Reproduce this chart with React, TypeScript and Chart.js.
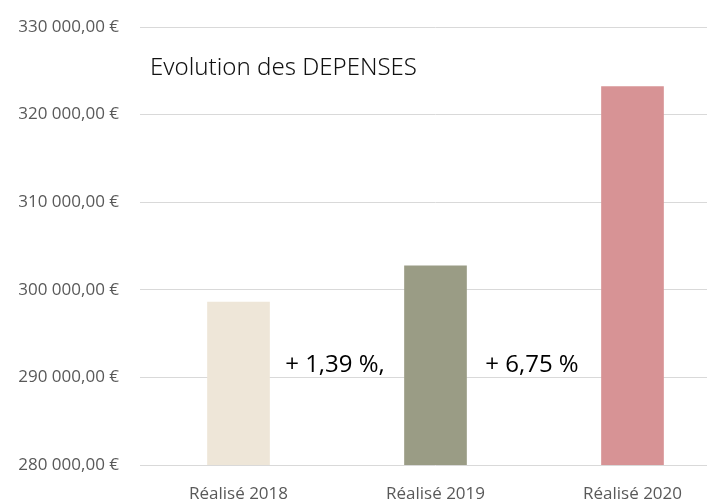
import React, { useEffect, useRef } from "react";
import { Chart, registerables } from "chart.js";

Chart.register(...registerables);

const categories = ["Réalisé 2018", "Réalisé 2019", "Réalisé 2020"];
const depenses = [298600, 302750, 323186];
const barColors = ["#EEE6D8", "#9A9C85", "#D79395"];
const variations = ["+ 1,39 %,", "+ 6,75 %"];
const chartTitle = "Evolution des DEPENSES";
const yMin = 280000;
const yMax = 330000;
const yStep = 10000;

const fmtEuro = (v: number) => {
  const s = Math.round(v).toString().replace(/\B(?=(\d{3})+(?!\d))/g, " ");
  return s + ",00 €";
};

const overlayPlugin = {
  id: "overlayText",
  afterDatasetsDraw(chart: any) {
    const { ctx, scales } = chart;
    const x = scales.x;
    const y = scales.y;
    ctx.save();
    ctx.fillStyle = "#111";
    ctx.font = "300 24px 'Noto Sans'";
    ctx.textAlign = "left";
    ctx.textBaseline = "middle";
    ctx.fillText(chartTitle, x.left + 10, y.getPixelForValue(325300));
    ctx.font = "24px 'Open Sans'";
    ctx.fillStyle = "#000";
    ctx.textAlign = "center";
    variations.forEach((t, i) => {
      const px = (x.getPixelForValue(i) + x.getPixelForValue(i + 1)) / 2 - 2;
      ctx.fillText(t, px, y.getPixelForValue(291400));
    });
    ctx.restore();
  },
};

export default function App() {
  const ref = useRef<HTMLCanvasElement>(null);
  useEffect(() => {
    if (!ref.current) return;
    const chart = new Chart(ref.current, {
      type: "bar",
      data: {
        labels: categories,
        datasets: [
          {
            data: depenses,
            backgroundColor: barColors,
            borderWidth: 0,
            barThickness: 62,
          },
        ],
      },
      options: {
        animation: false,
        responsive: true,
        maintainAspectRatio: false,
        layout: { padding: { top: 0, left: 0, right: 0, bottom: 0 } },
        plugins: { legend: { display: false }, tooltip: { enabled: false }, title: { display: false } },
        scales: {
          x: {
            afterFit: (s: any) => {
              s.height = 37;
            },
            grid: { display: false, drawTicks: false },
            border: { display: false },
            ticks: { color: "#595959", font: { family: "'Open Sans'", size: 17 }, padding: 19 },
          },
          y: {
            min: yMin,
            max: yMax,
            afterFit: (s: any) => {
              s.width = 140;
              s.paddingTop = 27;
            },
            grid: { color: "#D9D9D9", lineWidth: 1, drawTicks: false },
            border: { display: false },
            ticks: {
              stepSize: yStep,
              color: "#595959",
              padding: 21,
              font: { family: "'Open Sans'", size: 17 },
              callback: (v: any) => fmtEuro(Number(v)),
            },
          },
        },
      },
      plugins: [overlayPlugin],
    });
    return () => chart.destroy();
  }, []);
  return (
    <div style={{ position: "absolute", left: 0, top: 0, width: 707, height: 502, overflow: "hidden", background: "#fff" }}>
      <div style={{ position: "relative", width: 731, height: 502 }}>
        <canvas ref={ref} />
      </div>
    </div>
  );
}
